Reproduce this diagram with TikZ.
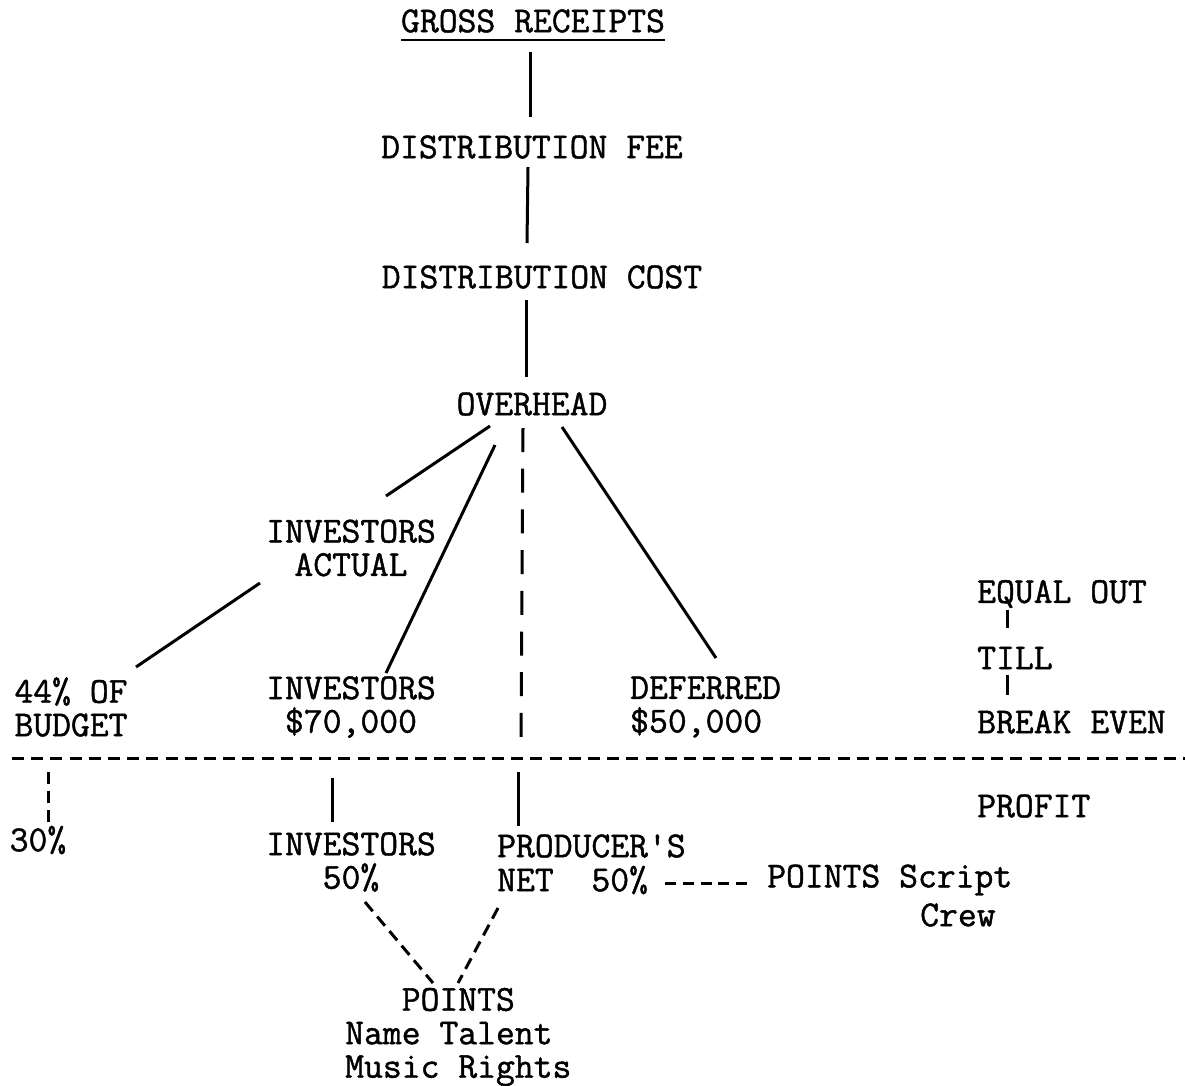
\documentclass[tikz,border=0pt]{standalone}
\usepackage{fontspec}
\usepackage{tikz}
\newfontfamily\typewriter[FakeBold=1.2]{Latin Modern Mono}

\tikzset{
	typed/.style={font=\typewriter\fontsize{36.6}{33.5}\selectfont,inner sep=0pt},
	link/.style={line width=3pt},
	hyphens/.style={line width=3pt,dash pattern=on 12pt off 7.2pt},
	breakline/.style={line width=3pt,dash pattern=on 24pt off 16.7pt},
	pointline/.style={line width=3pt,dash pattern=on 12pt off 7pt}
}

\begin{document}
\begin{tikzpicture}[x=1pt,y=-1pt]
\useasboundingbox (0,0) rectangle (1185,1085);

% the chain down to overhead
\node (gross) at (533,21) [typed] {GROSS RECEIPTS};
\node (fee) at (532,147) [typed] {DISTRIBUTION FEE};
\node (cost) at (542,277) [typed] {DISTRIBUTION COST};
\node (ovh) at (532,404) [typed] {OVERHEAD};

\draw [line width=2pt] ([yshift=-7pt]gross.south west) -- ([yshift=-7pt]gross.south east);
\draw [link] ([shift={(-3,31)}]gross.center) -- ([shift={(-2,-30)}]fee.center);
\draw [link] ([shift={(-4,20)}]fee.center) -- ([shift={(-15,-34)}]cost.center);
\draw [link] ([shift={(-16,23)}]cost.center) -- ([shift={(-6,-27)}]ovh.center);

% above break even
\node (act) at (351,548) [typed,align=center] {INVESTORS\\ACTUAL};
\node (bud) at (71,707) [typed,align=center] {44\% OF\\BUDGET};
\node (inv) at (351,707) [typed,align=center] {INVESTORS\\\$70,000};
\node (def) at (630,707) [typed,align=left,anchor=west] {DEFERRED\\\$50,000};

\draw [link] ([shift={(-42,22)}]ovh.center) -- ([shift={(35,-52)}]act.center);
\draw [link] ([shift={(-91,35)}]act.center) -- ([shift={(65,-40)}]bud.center);
\draw [link] ([shift={(-37,41)}]ovh.center) -- ([shift={(35,-34)}]inv.center);
\draw [link] ([shift={(30,23)}]ovh.center) -- ([shift={(86,-49)}]def.west);

\node (eq) at (977,594) [typed,anchor=west] {EQUAL OUT};
\node (till) at (977,658) [typed,anchor=west] {TILL};
\node (brk) at (977,722) [typed,anchor=west] {BREAK EVEN};
\draw [link] ([shift={(30,16)}]eq.west) -- ([shift={(30,-30)}]till.west);
\draw [link] ([shift={(30,17)}]till.west) -- ([shift={(30,-27)}]brk.west);

% break even line
\coordinate (divL) at (12,758);
\coordinate (divR) at (1185,758);
\draw [hyphens] (divL) -- (divR);

% profit
\node (profit) at (977,806) [typed,anchor=west] {PROFIT};
\node (pct) at (38,840) [typed] {30\%};
\node (inv50) at (351,862) [typed,align=center] {INVESTORS\\50\%};
\node (prod) at (497,846) [typed,anchor=west] {PRODUCER'S};
\node (net) at (497,880) [typed,anchor=west] {NET\ \ 50\%};
\node (ptsb) at (767,880) [typed,anchor=west] {POINTS Script};
\node (crew) at (920,915) [typed,anchor=west] {Crew};
\node (pts) at (345,1037) [typed,align=left,anchor=west] {\hphantom{Nam}POINTS\\Name Talent\\Music Rights};

\draw [breakline] ([shift={(-9,24)}]ovh.center) -- ([shift={(24,-109)}]prod.west);
\draw [link] ([shift={(21,-74)}]prod.west) -- ([shift={(21,-20)}]prod.west);
\draw [pointline] ([shift={(10,-68)}]pct.center) -- ([shift={(10,-12)}]pct.center);
\draw [link] ([shift={(-19,-84)}]inv50.center) -- ([shift={(-19,-40)}]inv50.center);
\draw [pointline] ([shift={(14,40)}]inv50.center) -- ([shift={(88,-54)}]pts.west);
\draw [pointline] ([shift={(1,28)}]net.west) -- ([shift={(113,-54)}]pts.west);
\draw [line width=3pt,dash pattern=on 11pt off 6.75pt] ([shift={(17,3)}]net.east) -- ([shift={(-17,3)}]ptsb.west);

\end{tikzpicture}
\end{document}
